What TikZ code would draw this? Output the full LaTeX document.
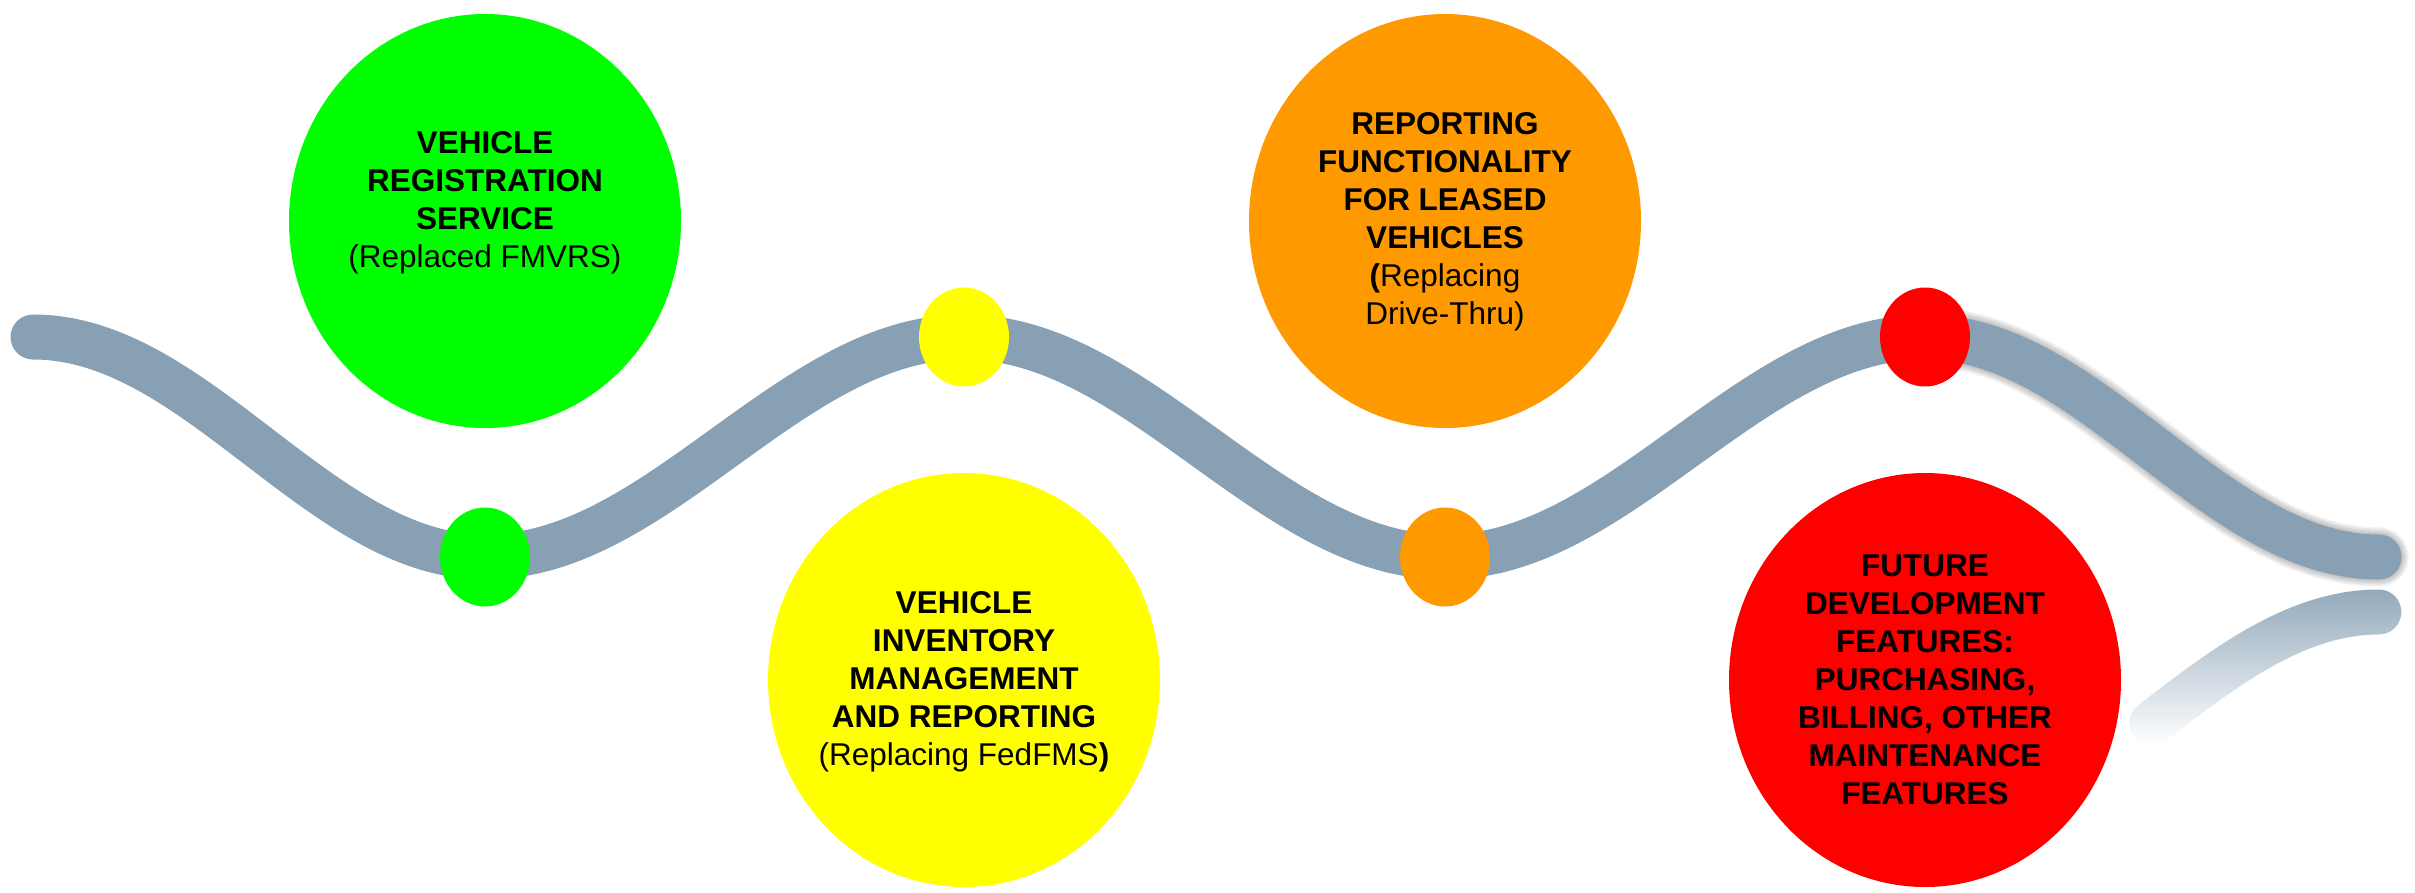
\documentclass[tikz,border=0pt]{standalone}
\usepackage{fontspec}
\setmainfont{Liberation Sans}
\usetikzlibrary{shapes.geometric,fadings}
\definecolor{road}{RGB}{135,160,180}
\definecolor{stopgreen}{RGB}{0,255,0}
\definecolor{stopyellow}{RGB}{255,255,0}
\definecolor{stoporange}{RGB}{255,153,0}
\definecolor{stopred}{RGB}{255,0,0}
\tikzfading[name=reflfade, top color=transparent!10, middle color=transparent!80, bottom color=transparent!100]
\begin{document}
\begin{tikzpicture}[x=1pt,y=-1pt,
	road/.style={draw=road,line width=45pt,line cap=round},
	dot/.style={ellipse,inner sep=0pt,minimum width=90pt,minimum height=99pt},
	bigstop/.style={ellipse,inner sep=0pt,minimum width=392pt,minimum height=414pt},
	stoptext/.style={align=center,font=\fontsize{31.5}{38}\selectfont}]
		\useasboundingbox (0,0) rectangle (2415,892);
		
		% wave points
		\coordinate (P0) at (33,337);
		\coordinate (M1) at (259,447);
		\coordinate (D1) at (485,557);
		\coordinate (M2) at (724.5,447);
		\coordinate (D2) at (964,337);
		\coordinate (M3) at (1204.5,447);
		\coordinate (D3) at (1445,557);
		\coordinate (M4) at (1685,447);
		\coordinate (D4) at (1925,337);
		\coordinate (M5) at (2152,447);
		\coordinate (P1) at (2379,557);
		% mirrored end
		\coordinate (R5) at (2152,723);
		\coordinate (R1) at (2379,612);
		
		% shadow of the last part
		\foreach \w in {1,...,7}{
			\draw[black,opacity=0.045,line width=42pt+2.5*\w,line cap=round,shift={(4,7)}] (D4) cos (M5) sin (P1);
		}
		% reflection
		\draw[road,path fading=reflfade] (R5) sin (R1);
		
		\draw[road] (P0) cos (M1) sin (D1) cos (M2) sin (D2) cos (M3) sin (D3) cos (M4) sin (D4) cos (M5) sin (P1);
		
		\node[dot,fill=stopgreen] (d1) at (D1) {};
		\node[dot,fill=stopyellow] (d2) at (D2) {};
		\node[dot,fill=stoporange] (d3) at (D3) {};
		\node[dot,fill=stopred] (d4) at (D4) {};
		
		\node[bigstop,fill=stopgreen] (s1) at (485,221) {};
		\node[bigstop,fill=stopyellow] (s2) at (964,680) {};
		\node[bigstop,fill=stoporange] (s3) at (1445,221) {};
		\node[bigstop,fill=stopred] (s4) at (1925,680) {};
		
		\node[stoptext] (t1) at (485,203) {\textbf{VEHICLE}\\\textbf{REGISTRATION}\\\textbf{SERVICE}\\(Replaced FMVRS)};
		\node[stoptext] (t2) at (964,682) {\textbf{VEHICLE}\\\textbf{INVENTORY}\\\textbf{MANAGEMENT}\\\textbf{AND REPORTING}\\(Replacing FedFMS\textbf{)}};
		\node[stoptext] (t3) at (1445,222) {\textbf{REPORTING}\\\textbf{FUNCTIONALITY}\\\textbf{FOR LEASED}\\\textbf{VEHICLES}\\\textbf{(}Replacing\\Drive-Thru)};
		\node[stoptext] (t4) at (1925,680) {\textbf{FUTURE}\\\textbf{DEVELOPMENT}\\\textbf{FEATURES:}\\\textbf{PURCHASING,}\\\textbf{BILLING, OTHER}\\\textbf{MAINTENANCE}\\\textbf{FEATURES}};
\end{tikzpicture}
\end{document}
